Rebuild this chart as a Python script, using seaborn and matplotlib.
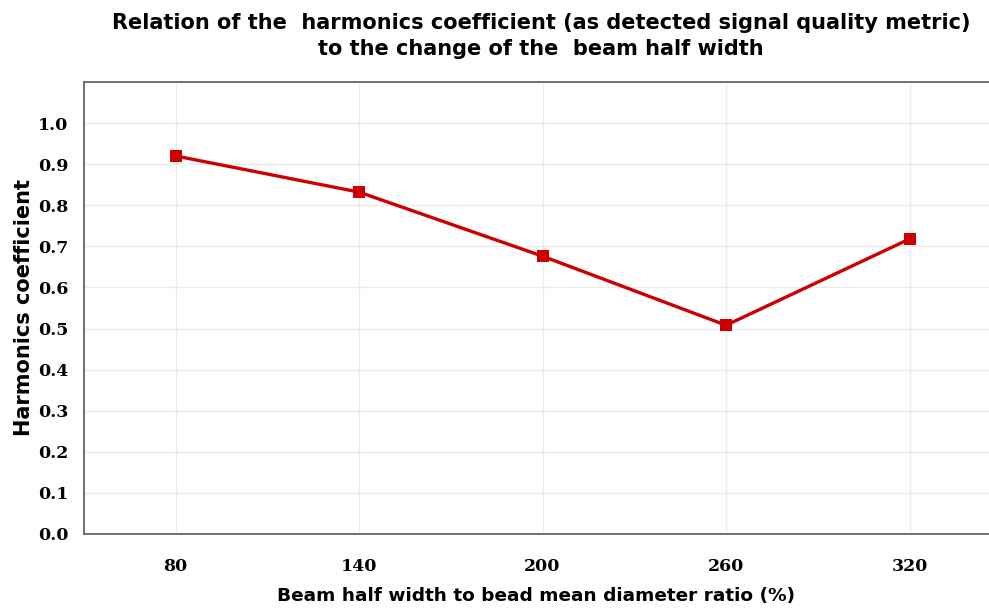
import matplotlib
matplotlib.use("Agg")
import matplotlib.pyplot as plt
import pandas as pd
import seaborn as sns

# beam half width to bead mean diameter ratio (%)
ratios = [80, 140, 200, 260, 320]
harmonics = [0.92, 0.832, 0.676, 0.508, 0.718]
y_ticks = [0.0, 0.1, 0.2, 0.3, 0.4, 0.5, 0.6, 0.7, 0.8, 0.9, 1.0]

sns.set_style("white")
plt.rcParams["font.family"] = ["DejaVu Sans"]
plt.rcParams["text.color"] = "black"
plt.rcParams["axes.labelcolor"] = "black"
plt.rcParams["xtick.color"] = "black"
plt.rcParams["ytick.color"] = "black"

df = pd.DataFrame({"Ratio": ratios, "Harmonics": harmonics})

fig = plt.figure(figsize=(9.89, 6.08), dpi=100)
ax = fig.add_axes([84 / 989, 74 / 608, 905 / 989, 452 / 608])

sns.lineplot(x="Ratio", y="Harmonics", data=df, ax=ax, color="#cc0000",
             linewidth=2.4, marker="s", markersize=8.5, markeredgewidth=0)

ax.set_xlim(50, 346)
ax.set_ylim(0, 1.1)
ax.set_xticks(ratios)
ax.set_yticks(y_ticks)
ax.set_xticklabels([str(r) for r in ratios], family="DejaVu Serif",
                   fontweight="bold", fontsize=12.5)
ax.set_yticklabels([f"{v:.1f}" for v in y_ticks], family="DejaVu Serif",
                   fontweight="bold", fontsize=12.5)
ax.grid(True, color="#ebebeb", linewidth=1.0)
ax.set_axisbelow(True)

for side in ["left", "top", "bottom"]:
    ax.spines[side].set_color("#666666")
    ax.spines[side].set_linewidth(1.3)
ax.spines["right"].set_visible(False)
ax.tick_params(axis="both", direction="out", length=6, width=1.2,
               color="#777777", pad=5)
ax.tick_params(axis="x", pad=11)

ax.set_xlabel("Beam half width to bead mean diameter ratio (%)",
              fontsize=13.3, fontweight="bold", labelpad=9)
ax.set_ylabel("Harmonics coefficient", fontsize=15, fontweight="bold",
              labelpad=3)
fig.suptitle("Relation of the  harmonics coefficient (as detected signal quality metric)\n"
             "to the change of the  beam half width",
             fontsize=15, fontweight="bold", x=541 / 989, y=0.978,
             linespacing=1.35)

fig.savefig("out.png", dpi=100)
